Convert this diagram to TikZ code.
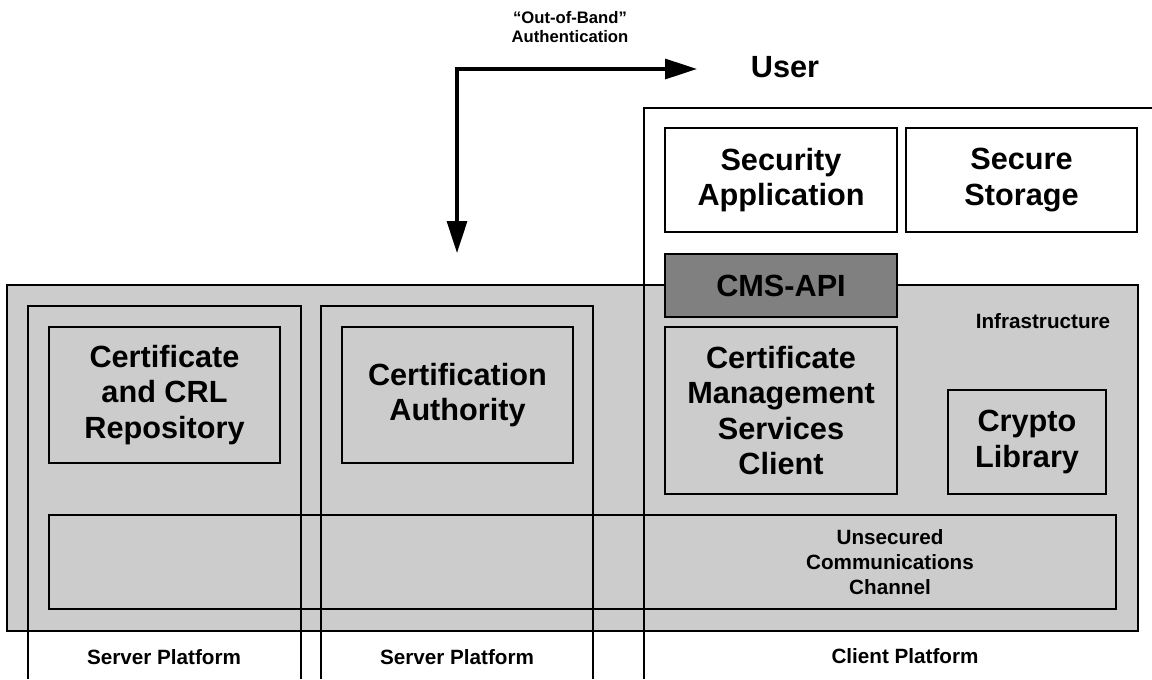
\documentclass[tikz,border=0pt]{standalone}
\usepackage{fontspec}
\setmainfont{Liberation Sans}
\usetikzlibrary{arrows.meta, positioning}
\definecolor{infragray}{RGB}{204,204,204}
\definecolor{apigray}{RGB}{128,128,128}
\tikzset{
  platform/.style={draw=black, line width=0.8pt},
  compbox/.style={draw=black, line width=1.1pt, inner sep=0pt},
  bigtext/.style={font=\fontsize{23}{26.5}\selectfont\bfseries, align=center},
  smalltext/.style={font=\fontsize{15.5}{18.75}\selectfont\bfseries, align=center},
  oobarrow/.style={line width=2.4pt, {Triangle[length=24pt,width=15pt]}-{Triangle[length=24pt,width=15pt]}},
}

\begin{document}
\begin{tikzpicture}[x=0.75pt, y=-0.75pt]
  \useasboundingbox (0,0) rectangle (1152,679);
  % Infrastructure panel
  \node[compbox, fill=infragray, minimum width=848.25pt, minimum height=259.5pt] (infra) at (572.5,458) {};
  \node[smalltext] (infralabel) at (1043,321) {Infrastructure};
  \node[compbox, minimum width=800.25pt, minimum height=70.5pt] (channel) at (582.5,562) {};
  \node[smalltext] (channellabel) at (890,562) {Unsecured\\Communications\\Channel};
  % Platforms
  \draw[platform] (28,679) -- (28,306) -- (301,306) -- (301,679);
  \draw[platform] (321,679) -- (321,306) -- (593,306) -- (593,679);
  \draw[platform] (644,679) -- (644,108) -- (1152,108);
  \node[smalltext] (server1) at (164,657) {Server Platform};
  \node[smalltext] (server2) at (457,657) {Server Platform};
  \node[smalltext] (client) at (905,656) {Client Platform};
  % Server side
  \node[compbox, fill=infragray, minimum width=173.25pt, minimum height=102pt, bigtext] (repo) at (164.5,395) {Certificate\\and CRL\\Repository};
  \node[compbox, fill=infragray, minimum width=173.25pt, minimum height=102pt, bigtext] (ca) at (457.5,395) {Certification\\Authority};
  % Client side
  \node[compbox, fill=white, minimum width=174pt, minimum height=78pt, bigtext] (secapp) at (781,180) {Security\\Application};
  \node[compbox, fill=white, minimum width=173.25pt, minimum height=78pt, bigtext] (storage) at (1021.5,180) {Secure\\Storage};
  \node[compbox, fill=apigray, minimum width=174pt, minimum height=47.25pt, bigtext] (cmsapi) at (781,285.5) {CMS-API};
  \node[compbox, fill=infragray, minimum width=174pt, minimum height=125.25pt, bigtext] (cmsc) at (781,410.5) {Certificate\\Management\\Services\\Client};
  \node[compbox, fill=infragray, minimum width=118.5pt, minimum height=78pt, bigtext] (crypto) at (1027,442) {Crypto\\Library};
  % User and out-of-band path
  \node[bigtext] (user) at (785,67) {User};
  \node[font=\fontsize{12.5}{14.5}\selectfont\bfseries, align=center] (ooblabel) at (570,27) {``Out-of-Band''\\Authentication};
  \coordinate (usertip) at (697,69);
  \coordinate (infratip) at (457,253);
  \draw[oobarrow] (infratip) |- (usertip);
\end{tikzpicture}
\end{document}
